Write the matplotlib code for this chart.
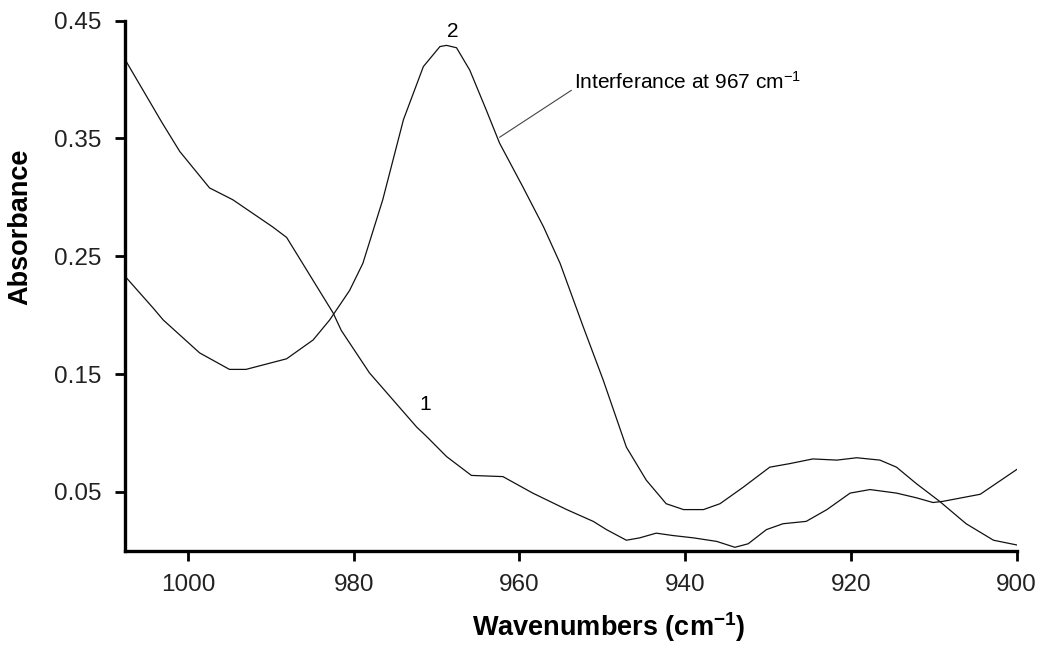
import matplotlib
matplotlib.use("Agg")
import matplotlib.pyplot as plt
import numpy as np

plt.rcParams['font.family'] = ['Liberation Sans', 'DejaVu Sans']
plt.rcParams['mathtext.fontset'] = 'custom'
plt.rcParams['mathtext.rm'] = 'Liberation Sans'
plt.rcParams['mathtext.it'] = 'Liberation Sans'
plt.rcParams['mathtext.bf'] = 'Liberation Sans:bold'

# spectrum 1 (starts high at the left, labelled "1")
wn1 = [1007.6, 1003.1, 1001.0, 997.4, 994.6, 989.8, 988.1, 982.5, 981.5, 978.1,
       972.4, 971.2, 968.8, 965.8, 962.0, 958.4, 954.3, 951.1, 949.5, 947.1,
       945.5, 943.5, 941.5, 939.0, 936.2, 934.0, 932.4, 930.2, 928.2, 925.4,
       922.9, 920.1, 917.7, 914.5, 912.1, 910.1, 908.9, 904.4, 900.0]
abs1 = [0.417, 0.363, 0.339, 0.308, 0.298, 0.275, 0.266, 0.202, 0.187, 0.151,
        0.105, 0.097, 0.080, 0.064, 0.063, 0.049, 0.035, 0.025, 0.018, 0.009,
        0.011, 0.015, 0.013, 0.011, 0.008, 0.003, 0.006, 0.018, 0.023, 0.025,
        0.035, 0.049, 0.052, 0.049, 0.045, 0.041, 0.042, 0.048, 0.069]

# spectrum 2 (peak near 969, labelled "2")
wn2 = [1007.6, 1004.2, 1003.0, 998.6, 995.0, 993.0, 988.1, 984.9, 982.9, 980.5,
       978.9, 976.5, 974.0, 971.6, 969.6, 968.8, 967.6, 966.0, 964.0, 962.4,
       959.6, 957.1, 955.1, 952.3, 949.9, 947.1, 944.7, 942.3, 940.2, 937.8,
       935.8, 933.0, 929.8, 927.4, 924.6, 921.7, 919.3, 916.5, 914.5, 912.1,
       909.3, 906.1, 902.8, 900.0]
abs2 = [0.233, 0.206, 0.196, 0.168, 0.154, 0.154, 0.163, 0.179, 0.196, 0.221,
        0.244, 0.298, 0.366, 0.411, 0.428, 0.429, 0.427, 0.408, 0.374, 0.346,
        0.309, 0.275, 0.244, 0.190, 0.145, 0.088, 0.060, 0.040, 0.035, 0.035,
        0.040, 0.054, 0.071, 0.074, 0.078, 0.077, 0.079, 0.077, 0.071, 0.057,
        0.042, 0.023, 0.009, 0.005]

xticks = [1000, 980, 960, 940, 920, 900]
yticks = [0.05, 0.15, 0.25, 0.35, 0.45]

fig = plt.figure(figsize=(10.42, 6.45), dpi=100)
ax = fig.add_axes([0.12, 0.146, 0.8557, 0.822])

ax.plot(wn1, abs1, color='#111111', lw=0.9)
ax.plot(wn2, abs2, color='#111111', lw=0.9)

ax.set_xlim(1007.6, 900)
ax.set_ylim(0, 0.45)
ax.set_xticks(xticks)
ax.set_yticks(yticks)
ax.set_yticklabels(["%.2f" % v for v in yticks])

for s in ['top', 'right']:
    ax.spines[s].set_visible(False)
for s in ['left', 'bottom']:
    ax.spines[s].set_linewidth(2.4)
ax.tick_params(width=2.0, length=7, labelsize=17.5, labelcolor='#222222', pad=10)

ax.set_xlabel(r'Wavenumbers (cm$^{\mathbf{-1}}$)', fontsize=19.5, fontweight='bold')
ax.set_ylabel('Absorbance', fontsize=19.5, fontweight='bold')
# labels sit off-centre in the original figure
ax.xaxis.set_label_coords(0.543, -0.112)
ax.yaxis.set_label_coords(-0.103, 0.611)

ax.text(968.0, 0.441, '2', fontsize=15, ha='center', va='center')
ax.text(971.4, 0.124, '1', fontsize=15, ha='center', va='center')
ax.annotate(r'Interferance at 967 cm$^{-1}$', xy=(962.4, 0.351), xytext=(953.4, 0.398),
            fontsize=15, ha='left', va='center',
            arrowprops=dict(arrowstyle='-', color='#444444', lw=0.8,
                            relpos=(0.0, 0.2), shrinkA=0, shrinkB=0))

fig.savefig('out.png', dpi=100)
